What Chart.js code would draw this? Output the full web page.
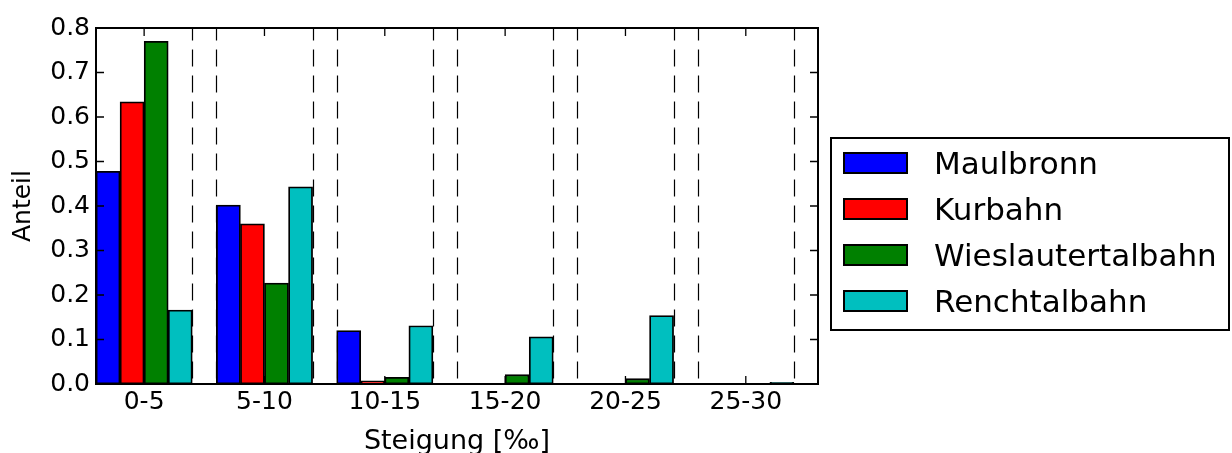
<!DOCTYPE html>
<html>
<head>
<meta charset="utf-8">
<script src="https://cdn.jsdelivr.net/npm/chart.js@4.4.1/dist/chart.umd.min.js"></script>
<style>
  html, body { margin: 0; padding: 0; background: #fff; }
  #wrap { position: relative; width: 1232px; height: 453px; }
  #legend {
    position: absolute; left: 830px; top: 137px; width: 400px; height: 194px;
    border: 2px solid #000; box-sizing: border-box; padding-top: 1px;
    font-family: 'DejaVu Sans', sans-serif; font-size: 31px; color: #000;
  }
  .row { display: flex; align-items: center; height: 46px; }
  .swatch { width: 65px; height: 22px; border: 2px solid #000; box-sizing: border-box; margin-left: 11px; margin-right: 26px; }
</style>
</head>
<body>
<div id="wrap">
  <canvas id="chart" width="1232" height="453"></canvas>
  <div id="legend"></div>
</div>
<script>
// categories and series
const categories = ['0-5', '5-10', '10-15', '15-20', '20-25', '25-30'];
const seriesNames = ['Maulbronn', 'Kurbahn', 'Wieslautertalbahn', 'Renchtalbahn'];
const seriesColors = ['#0000ff', '#ff0000', '#008000', '#00bfbf'];
const maulbronn = [0.478, 0.402, 0.120, 0, 0, 0];
const kurbahn = [0.634, 0.360, 0.007, 0, 0, 0];
const wieslautertalbahn = [0.770, 0.227, 0.015, 0.021, 0.012, 0];
const renchtalbahn = [0.166, 0.443, 0.131, 0.106, 0.154, 0.004];
const yTicks = [0, 0.1, 0.2, 0.3, 0.4, 0.5, 0.6, 0.7, 0.8];

const seriesValues = [maulbronn, kurbahn, wieslautertalbahn, renchtalbahn];
const barWidth = 0.2; // in x units, matplotlib style
const groupWidth = barWidth * seriesNames.length;

// dashed separators at the end of each bar group and start of the next
const separators = [];
categories.forEach((c, i) => {
  separators.push(i + groupWidth);
  if (i + 1 < categories.length) separators.push(i + 1);
});

const datasets = seriesNames.map((name, j) => ({
  label: name,
  data: seriesValues[j].map((v, i) => ({ x: i + (j + 0.5) * barWidth, y: v })),
  backgroundColor: seriesColors[j],
  borderColor: '#000',
  borderWidth: 1.8,
  borderSkipped: false,
  barPercentage: 1,
  categoryPercentage: 1
}));

const framePlugin = {
  id: 'frame',
  beforeDatasetsDraw(chart) {
    const { ctx, chartArea: a, scales: { x } } = chart;
    ctx.save();
    ctx.strokeStyle = '#000';
    ctx.lineWidth = 1.2;
    ctx.setLineDash([17, 9]);
    ctx.lineDashOffset = 4.6;
    separators.forEach(v => {
      const px = Math.round(x.getPixelForValue(v)) + 0.5;
      ctx.beginPath();
      ctx.moveTo(px, a.top);
      ctx.lineTo(px, a.bottom);
      ctx.stroke();
    });
    ctx.restore();
  },
  afterDatasetsDraw(chart) {
    const { ctx, chartArea: a, scales: { x, y } } = chart;
    ctx.save();
    ctx.strokeStyle = '#000';
    ctx.lineWidth = 1.3;
    ctx.beginPath();
    x.ticks.forEach(t => {
      const px = x.getPixelForValue(t.value);
      ctx.moveTo(px, a.bottom); ctx.lineTo(px, a.bottom - 8);
      ctx.moveTo(px, a.top); ctx.lineTo(px, a.top + 8);
    });
    y.ticks.forEach(t => {
      const py = y.getPixelForValue(t.value);
      ctx.moveTo(a.left, py); ctx.lineTo(a.left + 8, py);
      ctx.moveTo(a.right, py); ctx.lineTo(a.right - 8, py);
    });
    ctx.stroke();
    ctx.lineWidth = 2;
    ctx.strokeRect(a.left, a.top, a.width, a.height);
    ctx.restore();
  }
};

const font = { family: "'DejaVu Sans'", size: 25 };
const titleFont = { family: "'DejaVu Sans'", size: 27 };

new Chart(document.getElementById('chart'), {
  type: 'bar',
  data: { datasets },
  options: {
    responsive: false,
    animation: false,
    grouped: false,
    layout: { padding: { left: 0, top: 28, right: 414, bottom: 0 } },
    plugins: { legend: { display: false }, tooltip: { enabled: false } },
    scales: {
      x: {
        type: 'linear',
        offset: false,
        min: 0,
        max: categories.length,
        grid: { display: false, drawTicks: false, offset: false },
        border: { display: false },
        afterBuildTicks: s => { s.ticks = categories.map((c, i) => ({ value: i + groupWidth / 2 })); },
        afterFit: s => { s.height = 69; },
        ticks: {
          color: '#000', font, padding: 3, maxRotation: 0, autoSkip: false,
          callback: (v, i) => categories[i]
        },
        title: { display: true, text: 'Steigung [‰]', color: '#000', font: titleFont, padding: { top: 0, bottom: -5 } }
      },
      y: {
        min: 0,
        max: 0.8,
        grid: { display: false, drawTicks: false },
        border: { display: false },
        afterBuildTicks: s => { s.ticks = yTicks.map(v => ({ value: v })); },
        afterFit: s => { s.width = 96; },
        ticks: { color: '#000', font, padding: 6, callback: v => v.toFixed(1) },
        title: { display: true, text: 'Anteil', color: '#000', font, padding: { top: 8, bottom: 0 } }
      }
    }
  },
  plugins: [framePlugin]
});

const legend = document.getElementById('legend');
seriesNames.forEach((name, j) => {
  const row = document.createElement('div');
  row.className = 'row';
  const sw = document.createElement('span');
  sw.className = 'swatch';
  sw.style.background = seriesColors[j];
  const label = document.createElement('span');
  label.textContent = name;
  row.appendChild(sw);
  row.appendChild(label);
  legend.appendChild(row);
});
</script>
</body>
</html>
